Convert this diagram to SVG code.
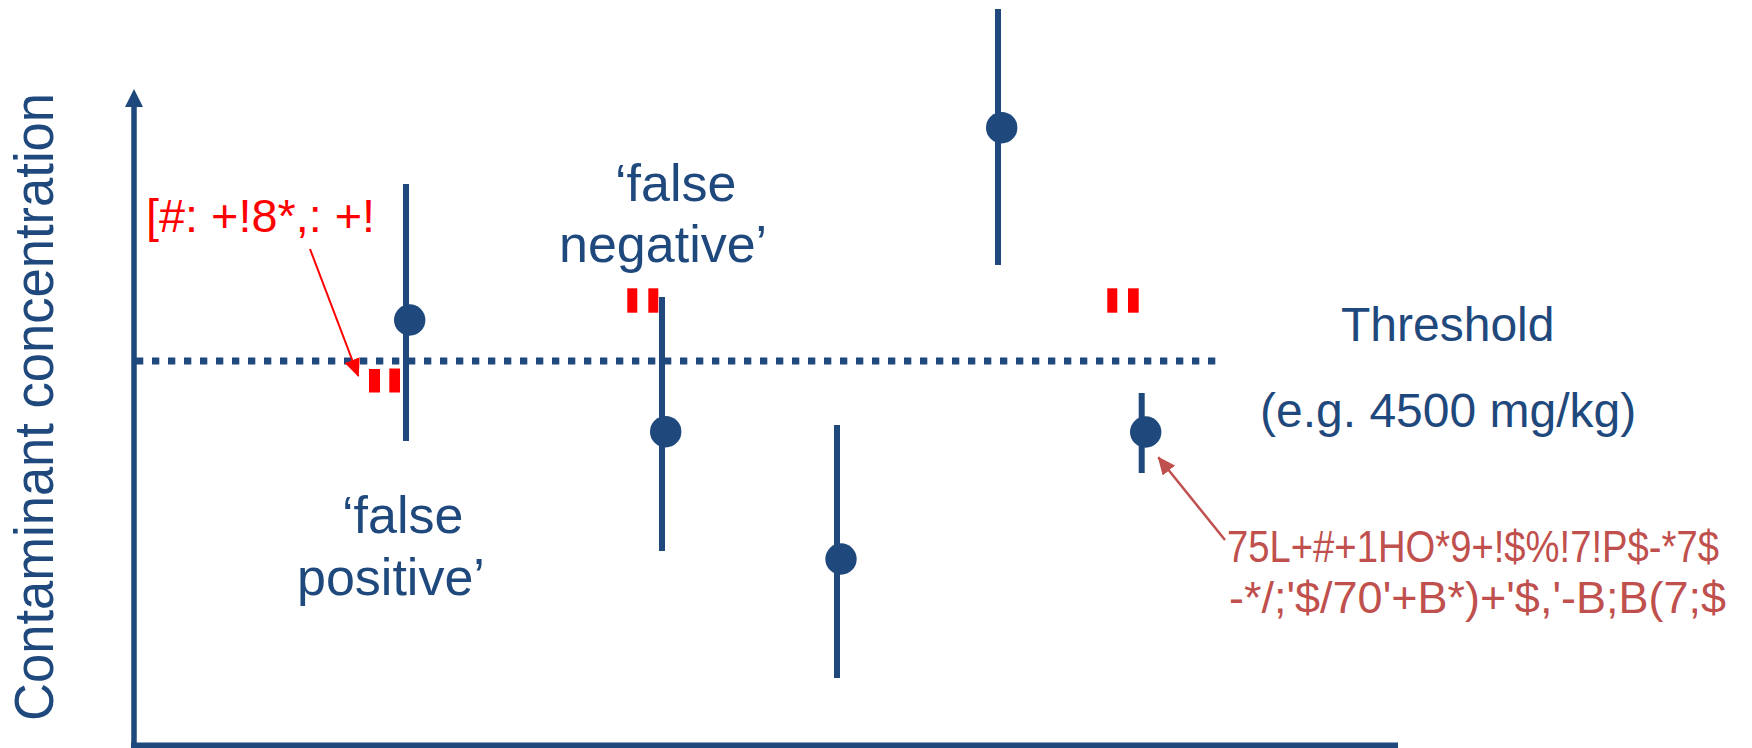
<svg xmlns="http://www.w3.org/2000/svg" width="1752" height="748" viewBox="0 0 1752 748">
<style>
.blue{fill:#1F497D;}
.bar{stroke:#1F497D;stroke-width:6;fill:none;}
.t{font-family:"Liberation Sans",Arial,sans-serif;fill:#1F497D;}
.red{fill:#FF0000;}
.lbl{font-family:"Liberation Sans",Arial,sans-serif;}
</style>
<defs>
<marker id="arRed" markerUnits="userSpaceOnUse" markerWidth="18" markerHeight="16" viewBox="0 0 18 16" refX="17" refY="8" orient="auto">
<path d="M0,0 L18,8 L0,16 Z" fill="#FF0000"/>
</marker>
<marker id="arBrown" markerUnits="userSpaceOnUse" markerWidth="18" markerHeight="16" viewBox="0 0 18 16" refX="17" refY="8" orient="auto">
<path d="M0,0 L18,8 L0,16 Z" fill="#C0504D"/>
</marker>
</defs>
<rect width="1752" height="748" fill="#FFFFFF"/>

<g id="axes">
<line x1="134" y1="104" x2="134" y2="748" stroke="#1F497D" stroke-width="5.5"/>
<polygon points="134,89 125,107 143,107" fill="#1F497D"/>
<line x1="131" y1="745.3" x2="1398" y2="745.3" stroke="#1F497D" stroke-width="5.5"/>
</g>

<g id="y-label">
<text class="t" transform="translate(53,721) rotate(-90)" font-size="55" textLength="628" lengthAdjust="spacingAndGlyphs">Contaminant concentration</text>
</g>

<g id="threshold-line">
<line x1="136" y1="361" x2="1216" y2="361" stroke="#1F497D" stroke-width="7" stroke-dasharray="7.3 8.7"/>
</g>

<g id="threshold-label">
<text class="t" x="1341" y="341" font-size="48">Threshold</text>
<text class="t" x="1260" y="427" font-size="48">(e.g. 4500 mg/kg)</text>
</g>

<g id="sample1">
<line class="bar" x1="406" y1="184" x2="406" y2="441"/>
<circle class="blue" cx="409.7" cy="320" r="15.7"/>
</g>
<g id="sample2">
<line class="bar" x1="662" y1="297" x2="662" y2="551"/>
<circle class="blue" cx="665.7" cy="431.7" r="15.7"/>
</g>
<g id="sample3">
<line class="bar" x1="837" y1="425" x2="837" y2="678"/>
<circle class="blue" cx="841" cy="559" r="15.7"/>
</g>
<g id="sample4">
<line class="bar" x1="998" y1="9" x2="998" y2="265"/>
<circle class="blue" cx="1001.7" cy="127.7" r="15.7"/>
</g>
<g id="sample5">
<line class="bar" x1="1141.7" y1="393" x2="1141.7" y2="473"/>
<circle class="blue" cx="1145.7" cy="432" r="15.7"/>
</g>

<g id="marks">
<rect class="red" x="369" y="369" width="11" height="23.5"/>
<rect class="red" x="389.3" y="368.5" width="10.7" height="24"/>
<rect class="red" x="627.3" y="288.3" width="10" height="24.4"/>
<rect class="red" x="648.3" y="288.3" width="10" height="24.4"/>
<rect class="red" x="1107.3" y="288.3" width="10" height="24.4"/>
<rect class="red" x="1128" y="288.3" width="10.7" height="24.4"/>
</g>

<g id="false-negative">
<text class="t" x="615" y="201" font-size="52">‘false</text>
<text class="t" x="559" y="262" font-size="52">negative’</text>
</g>

<g id="false-positive">
<text class="t" x="342" y="533" font-size="52">‘false</text>
<text class="t" x="297" y="595" font-size="52">positive’</text>
</g>

<g id="note-red">
<text class="lbl" x="146" y="232" font-size="46" fill="#FF0000" textLength="229" lengthAdjust="spacingAndGlyphs">[#: +!8*,: +!</text>
</g>

<g id="note-brown">
<text class="lbl" x="1227" y="562" font-size="45" fill="#C0504D" textLength="492" lengthAdjust="spacingAndGlyphs">75L+#+1HO*9+!$%!7!P$-*7$</text>
<text class="lbl" x="1229" y="613" font-size="45" fill="#C0504D" textLength="497" lengthAdjust="spacingAndGlyphs">-*/;'$/70'+B*)+'$,'-B;B(7;$</text>
</g>

<g id="connectors">
<line x1="310" y1="249" x2="358.3" y2="376" stroke="#FF0000" stroke-width="2" marker-end="url(#arRed)"/>
<line x1="1225" y1="540" x2="1158.3" y2="457.3" stroke="#C0504D" stroke-width="2.5" marker-end="url(#arBrown)"/>
</g>
</svg>
